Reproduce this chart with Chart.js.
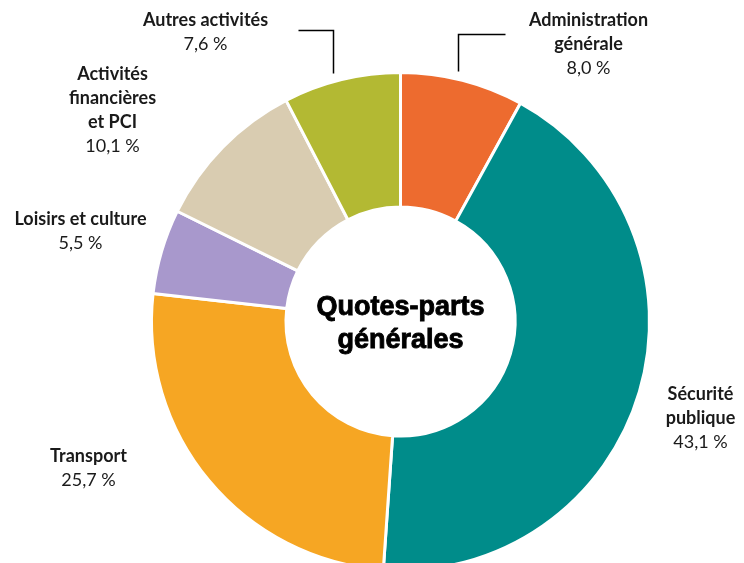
<!DOCTYPE html>
<html lang="fr">
<head>
<meta charset="utf-8">
<title>Quotes-parts générales</title>
<script src="https://cdn.jsdelivr.net/npm/chart.js"></script>
<style>
	html, body { margin: 0; padding: 0; background: #fff; overflow: hidden; }
	#wrap { width: 744px; height: 580px; }
</style>
</head>
<body>
<div id="wrap"><canvas id="quotes" width="744" height="580"></canvas></div>
<script>
// data
const categories = [
	["Administration", "générale"],
	["Sécurité", "publique"],
	["Transport"],
	["Loisirs et culture"],
	["Activités", "financières", "et PCI"],
	["Autres activités"]
];
const shares = [8.0, 43.1, 25.7, 5.5, 10.1, 7.6];
const centerTitle = ["Quotes-parts", "générales"];

const colors = ["#ED6B2F", "#008C8A", "#F6A623", "#A898CC", "#D9CCB1", "#B3B933"];

// where each label sits, relative to the ring centre (text block centre)
const labelOffsets = [[188, -277], [300, 97], [-312, 147], [-320, -90], [-288, -211], [-195, -289]];
// leader lines (relative to ring centre): only two labels have one
const leaders = {
	0: [[58, -250], [58, -287], [105, -287]],
	5: [[-67, -248], [-67, -291], [-102, -291]]
};

const lineH = 24;

function fmt(v) {
	return v.toFixed(1).replace('.', ',') + ' %';
}

const labelPlugin = {
	id: 'labels',
	afterDraw(chart) {
		const ctx = chart.ctx;
		const arc = chart.getDatasetMeta(0).data[0];
		const cx = arc.x, cy = arc.y;
		ctx.save();

		// leader lines
		ctx.strokeStyle = '#000';
		ctx.lineWidth = 1.5;
		Object.keys(leaders).forEach(k => {
			const pts = leaders[k];
			ctx.beginPath();
			ctx.moveTo(cx + pts[0][0], cy + pts[0][1]);
			pts.slice(1).forEach(p => ctx.lineTo(cx + p[0], cy + p[1]));
			ctx.stroke();
		});

		// outer labels
		ctx.textAlign = 'center';
		ctx.textBaseline = 'middle';
		categories.forEach((lines, i) => {
			const all = lines.length + 1;
			const x = cx + labelOffsets[i][0];
			const y0 = cy + labelOffsets[i][1] - (all - 1) * lineH / 2;
			ctx.fillStyle = '#1a1a1a';
			ctx.font = 'bold 18px Lato';
			lines.forEach((t, j) => ctx.fillText(t, x, y0 + j * lineH));
			ctx.font = '18px Lato';
			ctx.fillText(fmt(shares[i]), x, y0 + lines.length * lineH);
		});

		// centre title (a thin stroke makes it as heavy as the original)
		ctx.fillStyle = '#000';
		ctx.strokeStyle = '#000';
		ctx.lineWidth = 0.9;
		ctx.font = 'bold 27px "Liberation Sans"';
		[[centerTitle[0], -14], [centerTitle[1], 19]].forEach(([t, dy]) => {
			ctx.fillText(t, cx, cy + dy);
			ctx.strokeText(t, cx, cy + dy);
		});
		ctx.restore();
	}
};

new Chart(document.getElementById('quotes'), {
	type: 'doughnut',
	data: {
		labels: categories.map(c => c.join(' ')),
		datasets: [{
			data: shares,
			backgroundColor: colors,
			borderColor: '#ffffff',
			borderWidth: 3
		}]
	},
	options: {
		responsive: false,
		animation: false,
		cutout: '46%',
		layout: { padding: { top: 71, bottom: 8, left: 150, right: 93 } },
		plugins: {
			legend: { display: false },
			tooltip: { enabled: false }
		}
	},
	plugins: [labelPlugin]
});
</script>
</body>
</html>
